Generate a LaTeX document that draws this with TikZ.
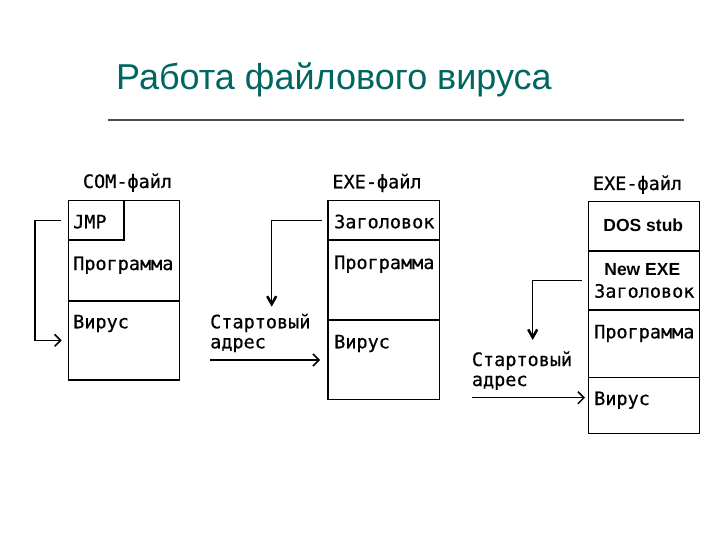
\documentclass[tikz,border=0pt]{standalone}
\usepackage{fontspec}
\setmainfont{Liberation Sans}
\newfontfamily\monof[FakeBold=0.6]{DejaVu Sans Mono}
\newfontfamily\arialf{Liberation Sans}
\usetikzlibrary{arrows.meta}
\definecolor{titlecol}{RGB}{0,102,96}
\begin{document}
\begin{tikzpicture}[x=1pt,y=-1pt,
 cell/.style={draw, line width=1.6pt, rectangle, anchor=north west, inner sep=0pt, outer sep=0pt},
 lbl/.style={anchor=base west, inner sep=0pt, font=\monof\fontsize{18.5}{20}\selectfont},
 clbl/.style={anchor=base, inner sep=0pt, font=\monof\fontsize{18.5}{20}\selectfont},
 blbl/.style={anchor=base, inner sep=0pt, font=\arialf\bfseries\fontsize{17.5}{19}\selectfont},
 conn/.style={line width=1.5pt, -{Straight Barb[length=6pt,width=12pt]}},
 dconn/.style={line width=1.5pt, -{Straight Barb[length=8pt,width=9pt,line width=2.5pt]}},
]
\useasboundingbox (0,0) rectangle (720,540);
% title
\node[anchor=base west, inner sep=0pt, font=\fontsize{36}{40}\selectfont, text=titlecol] (title) at (116,90) {Работа файлового вируса};
\coordinate (l1) at (108,120);
\coordinate (l2) at (684,120);
\draw[line width=1.8pt, black!70] (l1) -- (l2);

% COM file
\node[cell, minimum width=111pt, minimum height=100pt] (comprog) at (68.3,200.7) {};
\node[cell, minimum width=111pt, minimum height=79.3pt] (comvir) at (68.3,300.7) {};
\node[cell, minimum width=55.7pt, minimum height=39.3pt] (jmp) at (68.3,200.7) {};
\node[clbl] (comt) at (127.5,188) {COM-файл};
\node[lbl] (jmpt) at (73,228.3) {JMP};
\node[lbl] (comprogt) at (73,270) {Программа};
\node[lbl] (comvirt) at (73,328.3) {Вирус};
\draw[conn, shorten <=7.6pt, shorten >=6.6pt] (jmp.west) -- ++(-33.3,0) |- (comvir.west);

% EXE file 1
\node[cell, minimum width=111.6pt, minimum height=39.3pt] (hdr1) at (327.7,200.7) {};
\node[cell, minimum width=111.6pt, minimum height=80pt] (prog1) at (327.7,240) {};
\node[cell, minimum width=111.6pt, minimum height=79.3pt] (vir1) at (327.7,320) {};
\node[clbl] (exe1t) at (377,188.3) {EXE-файл};
\node[lbl] (hdr1t) at (334,228.3) {Заголовок};
\node[lbl] (prog1t) at (334,269) {Программа};
\node[lbl] (vir1t) at (334,348.3) {Вирус};
\node[lbl] (st1a) at (210,328.3) {Стартовый};
\node[lbl] (st1b) at (210,348.3) {адрес};
\coordinate (d1) at (271.7,306.7);
\coordinate (s1) at (210,360);
\draw[dconn, shorten <=6pt] (hdr1.west) -| (d1);
\draw[conn, shorten >=7.7pt] (s1) -- (s1 -| vir1.west);

% EXE file 2
\node[cell, minimum width=111pt, minimum height=49pt] (stub) at (588.3,201.7) {};
\node[cell, minimum width=111pt, minimum height=59.3pt] (newexe) at (588.3,250.7) {};
\node[cell, minimum width=111pt, minimum height=67.3pt] (prog2) at (588.3,310) {};
\node[cell, minimum width=111pt, minimum height=56pt] (vir2) at (588.3,377.3) {};
\node[clbl] (exe2t) at (637.5,190) {EXE-файл};
\node[blbl] (stubt) at (643.3,231.7) {DOS stub};
\node[blbl] (newexet) at (642.3,275) {New EXE};
\node[lbl] (hdr2t) at (594,297.7) {Заголовок};
\node[lbl] (prog2t) at (594,338.3) {Программа};
\node[lbl] (vir2t) at (594,405) {Вирус};
\node[lbl] (st2a) at (471.7,366) {Стартовый};
\node[lbl] (st2b) at (471.7,386) {адрес};
\coordinate (d2) at (532.7,340);
\coordinate (s2) at (471.7,397.7);
\draw[dconn, shorten <=6.6pt] (newexe.west) -| (d2);
\draw[conn, shorten >=3.3pt] (s2) -- (s2 -| vir2.west);
\end{tikzpicture}
\end{document}
